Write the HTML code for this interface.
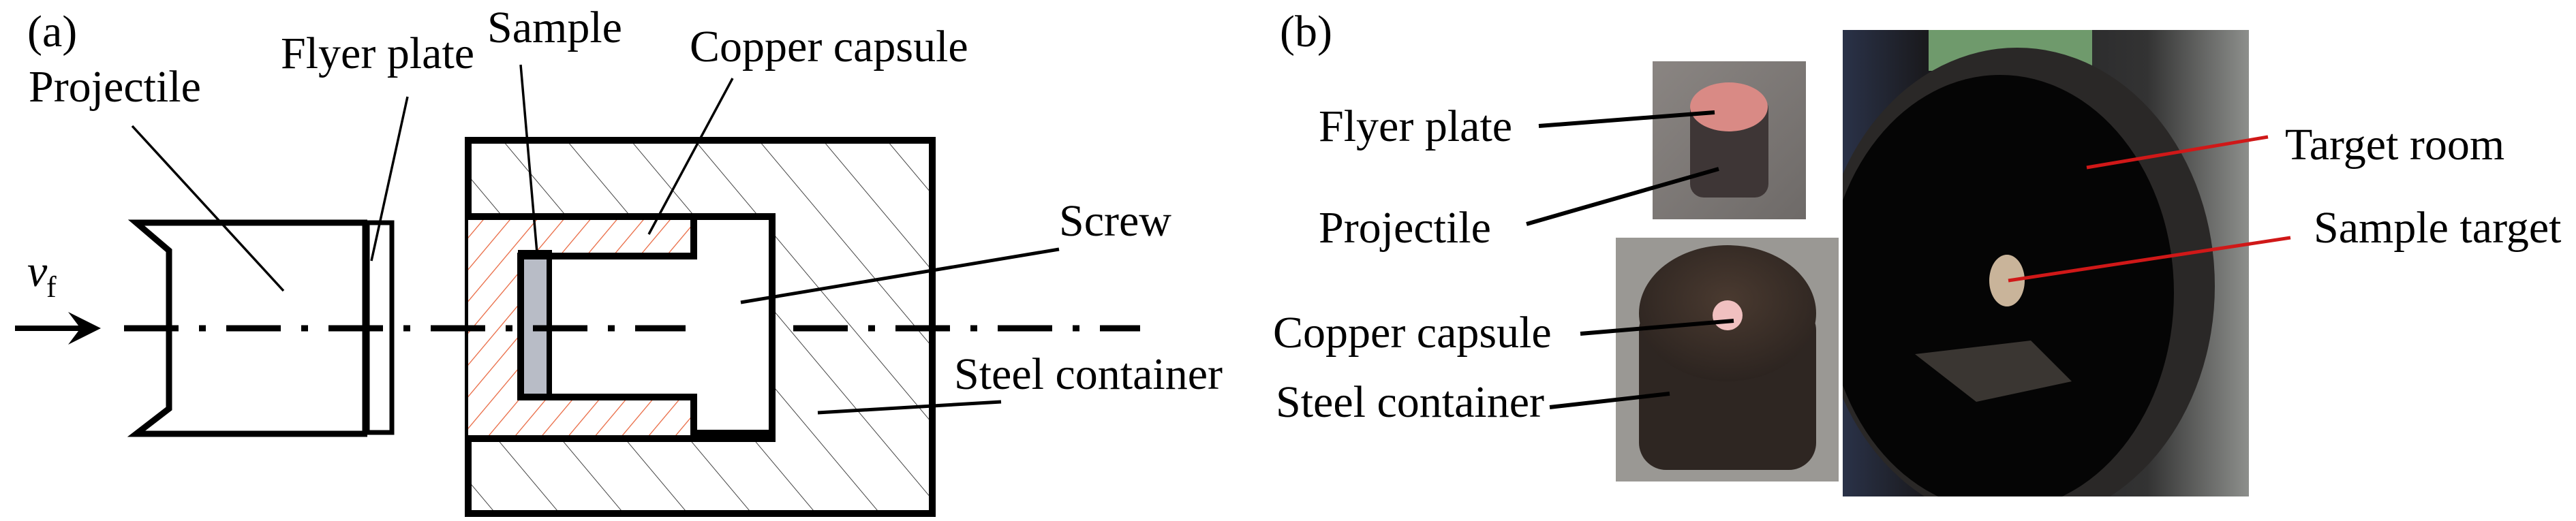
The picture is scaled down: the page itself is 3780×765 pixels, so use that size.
<!DOCTYPE html>
<html><head><meta charset="utf-8"><style>
html,body{margin:0;padding:0;background:#fff;}
svg{display:block;}
svg text{font-family:"Liberation Serif","Times New Roman",Times,serif !important;}
</style></head><body>
<svg width="3780" height="765" viewBox="0 0 3780 765" xmlns="http://www.w3.org/2000/svg">
<defs>
<pattern id="steel" patternUnits="userSpaceOnUse" width="72" height="72" patternTransform="rotate(-40)">
<line x1="0" y1="0" x2="0" y2="72" stroke="#444" stroke-width="2"/>
</pattern>
<pattern id="cu" patternUnits="userSpaceOnUse" width="30" height="30" patternTransform="rotate(40)">
<line x1="0" y1="0" x2="0" y2="30" stroke="#e8643c" stroke-width="2.5"/>
</pattern>
<linearGradient id="bg1" x1="0" y1="0" x2="1" y2="1"><stop offset="0" stop-color="#8a8582"/><stop offset="1" stop-color="#6e6a68"/></linearGradient>
<radialGradient id="rust" cx="0.5" cy="0.4" r="0.6"><stop offset="0" stop-color="#4a3a30"/><stop offset="1" stop-color="#2c2420"/></radialGradient>
<linearGradient id="room" x1="0" y1="0" x2="1" y2="0"><stop offset="0" stop-color="#2a3248"/><stop offset="0.2" stop-color="#1a1a1e"/><stop offset="0.75" stop-color="#333"/><stop offset="1" stop-color="#8d8f8c"/></linearGradient>
<clipPath id="bigclip"><rect x="2704" y="44" width="596" height="685"/></clipPath>
</defs>

<g style="font-family:'Liberation Serif',serif;font-size:66px" fill="#000">
<text x="40" y="68">(a)</text>
<text x="42" y="149">Projectile</text>
<text x="412" y="100">Flyer plate</text>
<text x="715" y="62">Sample</text>
<text x="1012" y="90">Copper capsule</text>
<text x="1554" y="346">Screw</text>
<text x="1400" y="571">Steel container</text>
</g>

<rect x="687" y="206" width="681" height="548" fill="url(#steel)" stroke="#000" stroke-width="10"/>
<rect x="687" y="318" width="446" height="326" fill="#fff"/>
<polygon points="687,318 1018,318 1018,376 764,376 764,583 1018,583 1018,640 687,640" fill="url(#cu)"/>
<rect x="764" y="371" width="42" height="212" fill="#b8bcc6" stroke="#000" stroke-width="8"/>
<polyline points="687,318 1133,318 1133,644 687,644" fill="none" stroke="#000" stroke-width="10"/>
<polyline points="1018,322 1018,376 764,376 764,583 1018,583 1018,636 1133,636" fill="none" stroke="#000" stroke-width="10"/>

<polyline points="539,327 200,327 248,368 248,600 200,637 539,637" fill="none" stroke="#000" stroke-width="9"/>
<line x1="535" y1="323" x2="535" y2="641" stroke="#000" stroke-width="7"/>
<rect x="539" y="327" width="36" height="308" fill="none" stroke="#000" stroke-width="7"/>

<line x1="182" y1="482" x2="1006" y2="482" stroke="#000" stroke-width="9" stroke-dasharray="80,30,10,30"/>
<line x1="1164" y1="482" x2="1673" y2="482" stroke="#000" stroke-width="9" stroke-dasharray="80,30,10,30"/>
<line x1="22" y1="482" x2="130" y2="482" stroke="#000" stroke-width="8"/>
<polygon points="148,482 100,458 118,482 100,506" fill="#000"/>
<text x="40" y="420" style="font-family:'Liberation Serif',serif;font-size:66px;font-style:italic">v</text><text x="68" y="436" style="font-family:'Liberation Serif',serif;font-size:44px">f</text>

<g stroke="#000" stroke-width="3.5">
<line x1="194" y1="185" x2="416" y2="427"/>
<line x1="598" y1="142" x2="545" y2="383"/>
<line x1="764" y1="95" x2="788" y2="371"/>
<line x1="1075" y1="115" x2="952" y2="344"/>
<line x1="1554" y1="366" x2="1087" y2="444" stroke-width="5"/>
<line x1="1469" y1="590" x2="1200" y2="606" stroke-width="5"/>
</g>

<rect x="2425" y="90" width="225" height="232" fill="url(#bg1)"/>
<rect x="2480" y="140" width="115" height="150" rx="20" fill="#3e3636"/>
<ellipse cx="2537" cy="157" rx="57" ry="36" fill="#d98a85"/>
<rect x="2371" y="349" width="327" height="358" fill="#9a9894"/>
<rect x="2405" y="445" width="260" height="245" rx="40" fill="#2e2622"/>
<ellipse cx="2535" cy="460" rx="130" ry="100" fill="url(#rust)"/>
<circle cx="2535" cy="463" r="22" fill="#f0c0c0"/>
<g clip-path="url(#bigclip)">
<rect x="2704" y="44" width="596" height="685" fill="url(#room)"/>
<rect x="2830" y="44" width="240" height="60" fill="#6f9a6c"/>
<ellipse cx="2960" cy="420" rx="290" ry="350" fill="#2a2827"/>
<ellipse cx="2935" cy="430" rx="255" ry="320" fill="#050505"/>
<ellipse cx="2945" cy="412" rx="26" ry="38" fill="#c9b49a"/>
<polygon points="2810,520 2980,500 3040,560 2900,590" fill="#3a3632"/>
</g>

<g stroke="#000" stroke-width="6">
<line x1="2258" y1="185" x2="2516" y2="165"/>
<line x1="2240" y1="329" x2="2522" y2="248"/>
<line x1="2319" y1="490" x2="2544" y2="471"/>
<line x1="2274" y1="598" x2="2450" y2="578"/>
</g>
<g stroke="#d01818" stroke-width="5">
<line x1="3328" y1="201" x2="3062" y2="246"/>
<line x1="3361" y1="349" x2="2947" y2="412"/>
</g>
<g style="font-family:'Liberation Serif',serif;font-size:66px" fill="#000">
<text x="1878" y="68">(b)</text>
<text x="1935" y="207">Flyer plate</text>
<text x="1935" y="356">Projectile</text>
<text x="1868" y="510">Copper capsule</text>
<text x="1872" y="612">Steel container</text>
<text x="3353" y="234">Target room</text>
<text x="3395" y="356">Sample target</text>
</g>
</svg>
</body></html>
